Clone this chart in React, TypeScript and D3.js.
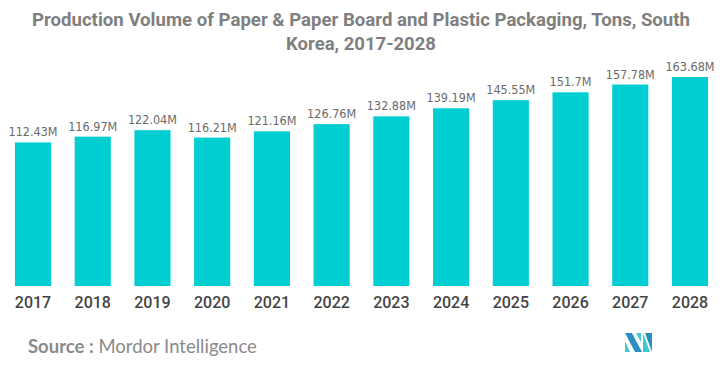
import React from 'react';
import * as d3 from 'd3';

const years = ['2017', '2018', '2019', '2020', '2021', '2022', '2023', '2024', '2025', '2026', '2027', '2028'];
const volumes = [112.43, 116.97, 122.04, 116.21, 121.16, 126.76, 132.88, 139.19, 145.55, 151.7, 157.78, 163.68];
const valueLabels = ['112.43M', '116.97M', '122.04M', '116.21M', '121.16M', '126.76M', '132.88M', '139.19M', '145.55M', '151.7M', '157.78M', '163.68M'];

const W = 723;
const H = 370;

const App = () => {
  const x = d3.scaleBand().domain(years).range([3, 720]).paddingInner(0.395).paddingOuter(0.2);
  const y = d3.scaleLinear().domain([0, 163.68]).range([286, 77]);

  return (
    <svg width={W} height={H} style={{ position: 'absolute', left: 0, top: 0 }}>
      <rect width={W} height={H} fill="#fff" />
      <g fontFamily="Roboto, 'Noto Sans', sans-serif" fontWeight="bold" fill="#7f7f7f" textAnchor="middle" fontSize={18.5}>
        <text x={361} y={26} textLength={658} lengthAdjust="spacingAndGlyphs">Production Volume of Paper &amp; Paper Board and Plastic Packaging, Tons, South</text>
        <text x={361} y={50}>Korea, 2017-2028</text>
      </g>
      {years.map((yr, i) => {
        const bx = x(yr)!;
        return (
          <g key={yr}>
            <rect x={bx} y={y(volumes[i])} width={x.bandwidth()} height={y(0) - y(volumes[i])} fill="#00CED1" />
            <text
              x={bx + x.bandwidth() / 2}
              y={y(volumes[i]) - 6}
              textAnchor="middle"
              fontFamily="'Liberation Sans Narrow', 'DejaVu Sans Condensed', sans-serif"
              fontSize={12.5}
              fill="#6b6b6b"
            >
              {valueLabels[i]}
            </text>
            <text
              x={bx + x.bandwidth() / 2}
              y={308}
              textAnchor="middle"
              fontFamily="Roboto, sans-serif"
              fontWeight={500}
              fontSize={16}
              fill="#444"
            >
              {yr}
            </text>
          </g>
        );
      })}
      <text x={28} y={353} fontFamily="Lato, 'Noto Sans', sans-serif" fontSize={18.5} fill="#8a8a8a">
        <tspan fontWeight="bold">Source :</tspan>
        <tspan> Mordor Intelligence</tspan>
      </text>
      <g transform="translate(625,333)">
        <path d="M0,0 L7,0 L17,19 L10,19 Z" fill="#2a8fc0" />
        <path d="M0,8 L5,19 L0,19 Z" fill="#3dcad3" />
        <path d="M11,0 L16,0 L16,9 Z" fill="#3dcad3" />
        <path d="M18,0 L25,19 L18,19 Z" fill="#3dcad3" />
        <path d="M20,0 L27,0 L27,19 Z" fill="#2a8fc0" />
      </g>
    </svg>
  );
};

export default App;
